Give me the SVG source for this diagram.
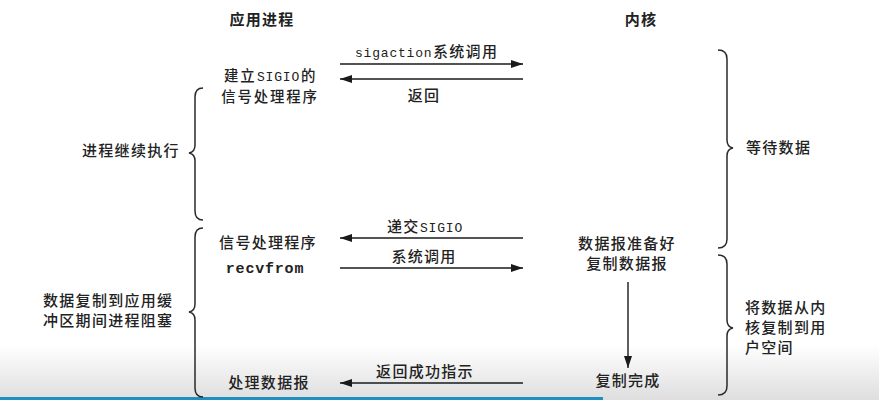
<svg xmlns="http://www.w3.org/2000/svg" width="879" height="400" viewBox="0 0 879 400">
<defs>
<linearGradient id="bg" x1="0" y1="0" x2="0" y2="1">
<stop offset="0" stop-color="#ffffff"/>
<stop offset="1" stop-color="#dedede"/>
</linearGradient>
<marker id="ah" viewBox="0 0 12 8" refX="12" refY="4" markerWidth="12" markerHeight="8" markerUnits="userSpaceOnUse" orient="auto">
<path d="M0,0 L12,4 L0,8 Z" fill="#1a1a1a"/>
</marker>
<style>
text{font-family:"Noto Sans CJK SC","Liberation Sans",sans-serif;font-size:15px;fill:#222;font-weight:500;letter-spacing:1.3px}
.h{font-weight:700}
.s{font-size:14.4px;letter-spacing:1.9px}
.m{font-family:"Liberation Mono","Noto Sans CJK SC",monospace;font-size:13px;letter-spacing:0.8px}
.mb{font-family:"Liberation Mono",monospace;font-size:15px;font-weight:700;letter-spacing:0.8px}
.c{text-anchor:middle}
.ln{stroke:#1a1a1a;stroke-width:1.4;fill:none}
.br{stroke:#2a2a2a;stroke-width:1.5;fill:none}
</style>
</defs>
<rect x="0" y="0" width="879" height="400" fill="#ffffff"/>
<rect x="0" y="345" width="879" height="55" fill="url(#bg)"/>
<rect x="0" y="397" width="603" height="3" fill="#1f8fbf"/>

<g id="headers">
<text class="h c" x="262" y="25">应用进程</text>
<text class="h c" x="641" y="25">内核</text>
</g>

<g id="connectors">
<line class="ln" x1="340" y1="64" x2="523" y2="64" marker-end="url(#ah)"/>
<line class="ln" x1="523" y1="79" x2="340" y2="79" marker-end="url(#ah)"/>
<line class="ln" x1="523" y1="238" x2="340" y2="238" marker-end="url(#ah)"/>
<line class="ln" x1="340" y1="268" x2="523" y2="268" marker-end="url(#ah)"/>
<line class="ln" x1="523" y1="383" x2="340" y2="383" marker-end="url(#ah)"/>
<line class="ln" x1="628" y1="282" x2="628" y2="368" marker-end="url(#ah)"/>
</g>

<g id="labels">
<text class="m" x="355" y="57">sigaction</text>
<text x="433" y="57">系统调用</text>
<text class="c" x="424" y="101">返回</text>
<text x="387" y="232">递交</text>
<text class="m" x="420" y="232">SIGIO</text>
<text class="c" x="424" y="262">系统调用</text>
<text class="c" x="425" y="377">返回成功指示</text>
</g>

<g id="app-setup">
<text class="s" x="224" y="81">建立</text>
<text class="m" x="257" y="81">SIGIO</text>
<text class="s" x="301" y="81">的</text>
<text class="s c" x="270" y="102">信号处理程序</text>
</g>
<g id="app-handler">
<text class="c" x="268" y="248">信号处理程序</text>
<text class="mb c" x="265" y="273">recvfrom</text>
</g>
<g id="app-process">
<text class="c" x="269" y="388">处理数据报</text>
</g>

<g id="kernel-ready">
<text class="c" x="627" y="249">数据报准备好</text>
<text class="c" x="627" y="269">复制数据报</text>
</g>
<g id="kernel-done">
<text class="c" x="628" y="386">复制完成</text>
</g>

<g id="brace-continue">
<path class="br" d="M203,88 Q195,88 195,97 L195,145 Q195,152 189,153 Q195,154 195,161 L195,211 Q195,220 203,220"/>
<text x="82" y="156">进程继续执行</text>
</g>
<g id="brace-blocked">
<path class="br" d="M203,228 Q195,228 195,237 L195,304 Q195,311 189,312 Q195,313 195,320 L195,388 Q195,397 203,397"/>
<text x="43" y="306">数据复制到应用缓</text>
<text x="43" y="326">冲区期间进程阻塞</text>
</g>
<g id="brace-wait">
<path class="br" d="M718,50 Q727,50 727,59 L727,140 Q727,147 733,148 Q727,149 727,156 L727,239 Q727,248 718,248"/>
<text x="746" y="153">等待数据</text>
</g>
<g id="brace-copy">
<path class="br" d="M718,255 Q727,255 727,264 L727,320 Q727,327 733,328 Q727,329 727,336 L727,386 Q727,395 718,395"/>
<text x="745" y="313">将数据从内</text>
<text x="745" y="333">核复制到用</text>
<text x="745" y="353">户空间</text>
</g>
</svg>
